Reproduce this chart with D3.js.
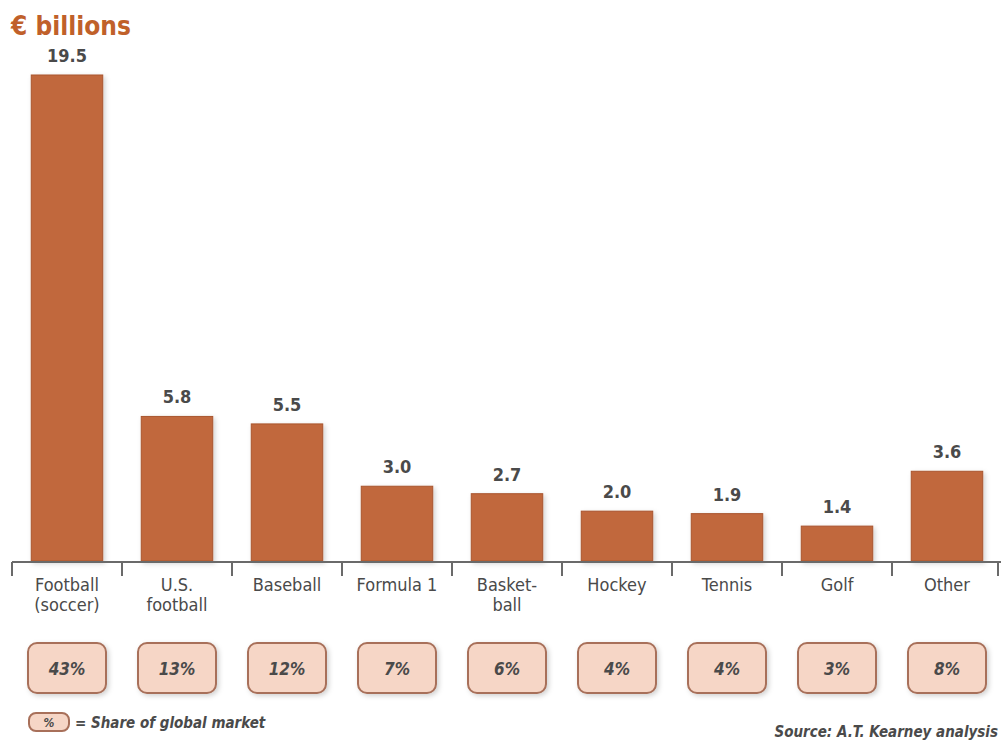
<!DOCTYPE html>
<html>
<head>
<meta charset="utf-8">
<script src="https://cdn.jsdelivr.net/npm/d3@7"></script>
<style>
  body { margin: 0; background: #fff; }
  svg { display: block; }
  text { font-family: "DejaVu Sans Condensed", "DejaVu Sans", sans-serif; font-stretch: condensed; }
</style>
</head>
<body>
<div id="chart"></div>
<script>
var categories = ["Football|(soccer)", "U.S.|football", "Baseball", "Formula 1", "Basket-|ball", "Hockey", "Tennis", "Golf", "Other"];
var values = [19.5, 5.8, 5.5, 3.0, 2.7, 2.0, 1.9, 1.4, 3.6];
var shares = ["43%", "13%", "12%", "7%", "6%", "4%", "4%", "3%", "8%"];

var width = 1001;
var height = 745;

//Colours
var barColor = "#c1683d";
var barStroke = "#a9552e";
var titleColor = "#c0602a";
var textColor = "#4a4a4a";
var boxFill = "#f6d6c6";
var boxStroke = "#a8705a";

var baseY = 561;

var svg = d3.select("#chart").append("svg")
    .attr("width", width)
    .attr("height", height);

var defs = svg.append("defs");
var shadow = defs.append("filter").attr("id", "shadow")
    .attr("x", "-20%").attr("y", "-20%").attr("width", "150%").attr("height", "150%");
shadow.append("feDropShadow")
    .attr("dx", 2).attr("dy", 2).attr("stdDeviation", 2.5)
    .attr("flood-color", "#000").attr("flood-opacity", 0.18);

var x = d3.scaleBand()
    .domain(categories)
    .range([12, 1002])
    .paddingInner(0.35)
    .paddingOuter(0.175);

var y = d3.scaleLinear()
    .domain([0, 19.5])
    .range([baseY, 75]);

var step = x.step();

//Title
svg.append("text")
    .attr("x", 11)
    .attr("y", 35)
    .attr("fill", titleColor)
    .attr("font-size", 26)
    .attr("font-weight", "bold")
    .text("€ billions");

//Bars
svg.selectAll("rect.bar")
    .data(values)
    .enter()
    .append("rect")
    .attr("class", "bar")
    .attr("x", function (d, i) { return x(categories[i]); })
    .attr("y", function (d) { return y(d); })
    .attr("width", x.bandwidth())
    .attr("height", function (d) { return baseY - y(d); })
    .attr("fill", barColor)
    .attr("stroke", barStroke)
    .attr("stroke-width", 1)
    .attr("filter", "url(#shadow)");

//Value labels
svg.selectAll("text.value")
    .data(values)
    .enter()
    .append("text")
    .attr("class", "value")
    .attr("x", function (d, i) { return x(categories[i]) + x.bandwidth() / 2; })
    .attr("y", function (d) { return y(d) - 13; })
    .attr("text-anchor", "middle")
    .attr("fill", textColor)
    .attr("font-size", 18)
    .attr("font-weight", "bold")
    .text(function (d) { return d.toFixed(1); });

//Axis line and ticks
var axis = svg.append("g").attr("stroke", "#6a6a6a").attr("stroke-width", 2);
axis.append("line")
    .attr("x1", 12).attr("x2", width)
    .attr("y1", baseY + 1).attr("y2", baseY + 1);
axis.selectAll("line.tick")
    .data(d3.range(categories.length + 1))
    .enter()
    .append("line")
    .attr("class", "tick")
    .attr("x1", function (i) { return Math.min(12 + i * step, width - 3); })
    .attr("x2", function (i) { return Math.min(12 + i * step, width - 3); })
    .attr("y1", baseY + 1)
    .attr("y2", baseY + 15);

//Category labels
var catText = svg.selectAll("text.cat")
    .data(categories)
    .enter()
    .append("text")
    .attr("class", "cat")
    .attr("text-anchor", "middle")
    .attr("fill", textColor)
    .attr("font-size", 18);
catText.selectAll("tspan")
    .data(function (d) { return d.split("|").map(function (s) { return { s: s, c: d }; }); })
    .enter()
    .append("tspan")
    .attr("x", function (d) { return x(d.c) + x.bandwidth() / 2; })
    .attr("y", function (d, i) { return 591 + i * 20; })
    .text(function (d) { return d.s; });

//Share boxes
var boxW = 78, boxH = 50;
svg.selectAll("rect.share")
    .data(shares)
    .enter()
    .append("rect")
    .attr("class", "share")
    .attr("x", function (d, i) { return x(categories[i]) + x.bandwidth() / 2 - boxW / 2; })
    .attr("y", 643)
    .attr("width", boxW)
    .attr("height", boxH)
    .attr("rx", 9)
    .attr("fill", boxFill)
    .attr("stroke", boxStroke)
    .attr("stroke-width", 2)
    .attr("filter", "url(#shadow)");

svg.selectAll("text.share")
    .data(shares)
    .enter()
    .append("text")
    .attr("class", "share")
    .attr("x", function (d, i) { return x(categories[i]) + x.bandwidth() / 2; })
    .attr("y", 675)
    .attr("text-anchor", "middle")
    .attr("fill", textColor)
    .attr("font-size", 17)
    .attr("font-style", "italic")
    .attr("font-weight", "bold")
    .text(function (d) { return d; });

//Legend
svg.append("rect")
    .attr("x", 29).attr("y", 713)
    .attr("width", 40).attr("height", 18)
    .attr("rx", 7)
    .attr("fill", boxFill)
    .attr("stroke", boxStroke)
    .attr("stroke-width", 2);
svg.append("text")
    .attr("x", 49).attr("y", 727)
    .attr("text-anchor", "middle")
    .attr("fill", textColor)
    .attr("font-size", 12)
    .attr("font-style", "italic")
    .attr("font-weight", "bold")
    .text("%");
svg.append("text")
    .attr("x", 75).attr("y", 728)
    .attr("fill", textColor)
    .attr("font-size", 15)
    .attr("font-style", "italic")
    .attr("font-weight", "bold")
    .text("= Share of global market");

//Source
svg.append("text")
    .attr("x", 998).attr("y", 737)
    .attr("text-anchor", "end")
    .attr("fill", textColor)
    .attr("font-size", 15)
    .attr("font-style", "italic")
    .attr("font-weight", "bold")
    .text("Source: A.T. Kearney analysis");
</script>
</body>
</html>
